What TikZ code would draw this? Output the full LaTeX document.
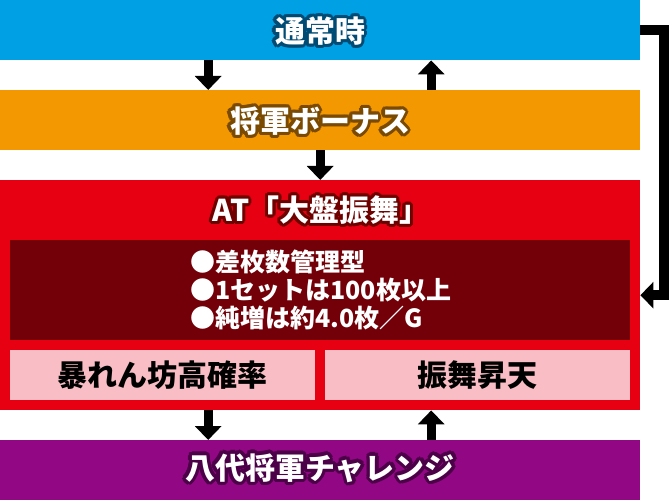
\documentclass[tikz,border=0pt]{standalone}
\usepackage{fontspec}
\setmainfont{Noto Sans CJK JP}
\usepackage{tikz}
\usetikzlibrary{arrows.meta}
\definecolor{tsujo}{HTML}{00A0E4}
\definecolor{bonus}{HTML}{F39800}
\definecolor{atred}{HTML}{E60012}
\definecolor{atdark}{HTML}{730008}
\definecolor{pinkbox}{HTML}{F9BEC5}
\definecolor{challenge}{HTML}{920783}
\definecolor{tsujoline}{HTML}{004B73}
\definecolor{bonusline}{HTML}{7A4A00}
\definecolor{atline}{HTML}{6E0000}
\definecolor{challengeline}{HTML}{4B0047}
\newcommand{\halotext}[4]{%
  \foreach \a in {0,22.5,...,337.5}
    \node[titletext,text=#3] at ([shift={(\a:3.2pt)}]#2) {#4};
  \node[titletext] (#1) at (#2) {#4};}

\begin{document}
\begin{tikzpicture}[x=1pt,y=-1pt]
\tikzstyle{every node}+=[inner sep=0pt]
\tikzstyle{bar}=[anchor=north west,minimum width=640pt,minimum height=60pt]
\tikzstyle{modebox}=[anchor=north west,minimum width=305pt,minimum height=50pt,fill=pinkbox,font=\fontsize{30}{30}\selectfont\bfseries]
\tikzstyle{titletext}=[text=white,font=\fontsize{30}{30}\selectfont\bfseries]
\tikzstyle{flow}=[line width=9pt,-{Triangle[width=26pt,length=14pt]}]
\useasboundingbox (0,0) rectangle (670,500);
\node[bar,fill=tsujo] (tsujo) at (0,0) {};
\node[bar,fill=bonus] (bonus) at (0,90) {};
\node[anchor=north west,minimum width=640pt,minimum height=230pt,fill=atred] (at) at (0,180) {};
\node[anchor=north west,minimum width=620pt,minimum height=100pt,fill=atdark] (spec) at (10,240) {};
\node[modebox] (abare) at (10,350) {暴れん坊高確率};
\node[modebox] (shoten) at (325,350) {振舞昇天};
\node[bar,fill=challenge] (challenge) at (0,440) {};
\halotext{tsujotext}{320,31}{tsujoline}{通常時}
\halotext{bonustext}{320,121}{bonusline}{将軍ボーナス}
\halotext{attext}{321,210}{atline}{AT「大盤振舞」}
\halotext{challengetext}{320,468}{challengeline}{八代将軍チャレンジ}
\node[anchor=west,align=left,text=white,font=\fontsize{25}{28}\selectfont\bfseries] (specs) at (190,290) {●差枚数管理型\\●1セットは100枚以上\\●純増は約4.0枚／G};
\draw[flow] ([xshift=-112pt]tsujo.south) -- ([xshift=-112pt]bonus.north);
\draw[flow] ([xshift=111pt]bonus.north) -- ([xshift=111pt]tsujo.south);
\draw[flow] (bonus.south) -- (at.north);
\draw[flow] ([xshift=-112pt]at.south) -- ([xshift=-112pt]challenge.north);
\draw[flow] ([xshift=111pt]challenge.north) -- ([xshift=111pt]at.south);
\draw[line width=10pt,-{Triangle[width=26pt,length=13pt]}] (tsujo.east) -- ++(24,0) |- (at.east);
\end{tikzpicture}
\end{document}
